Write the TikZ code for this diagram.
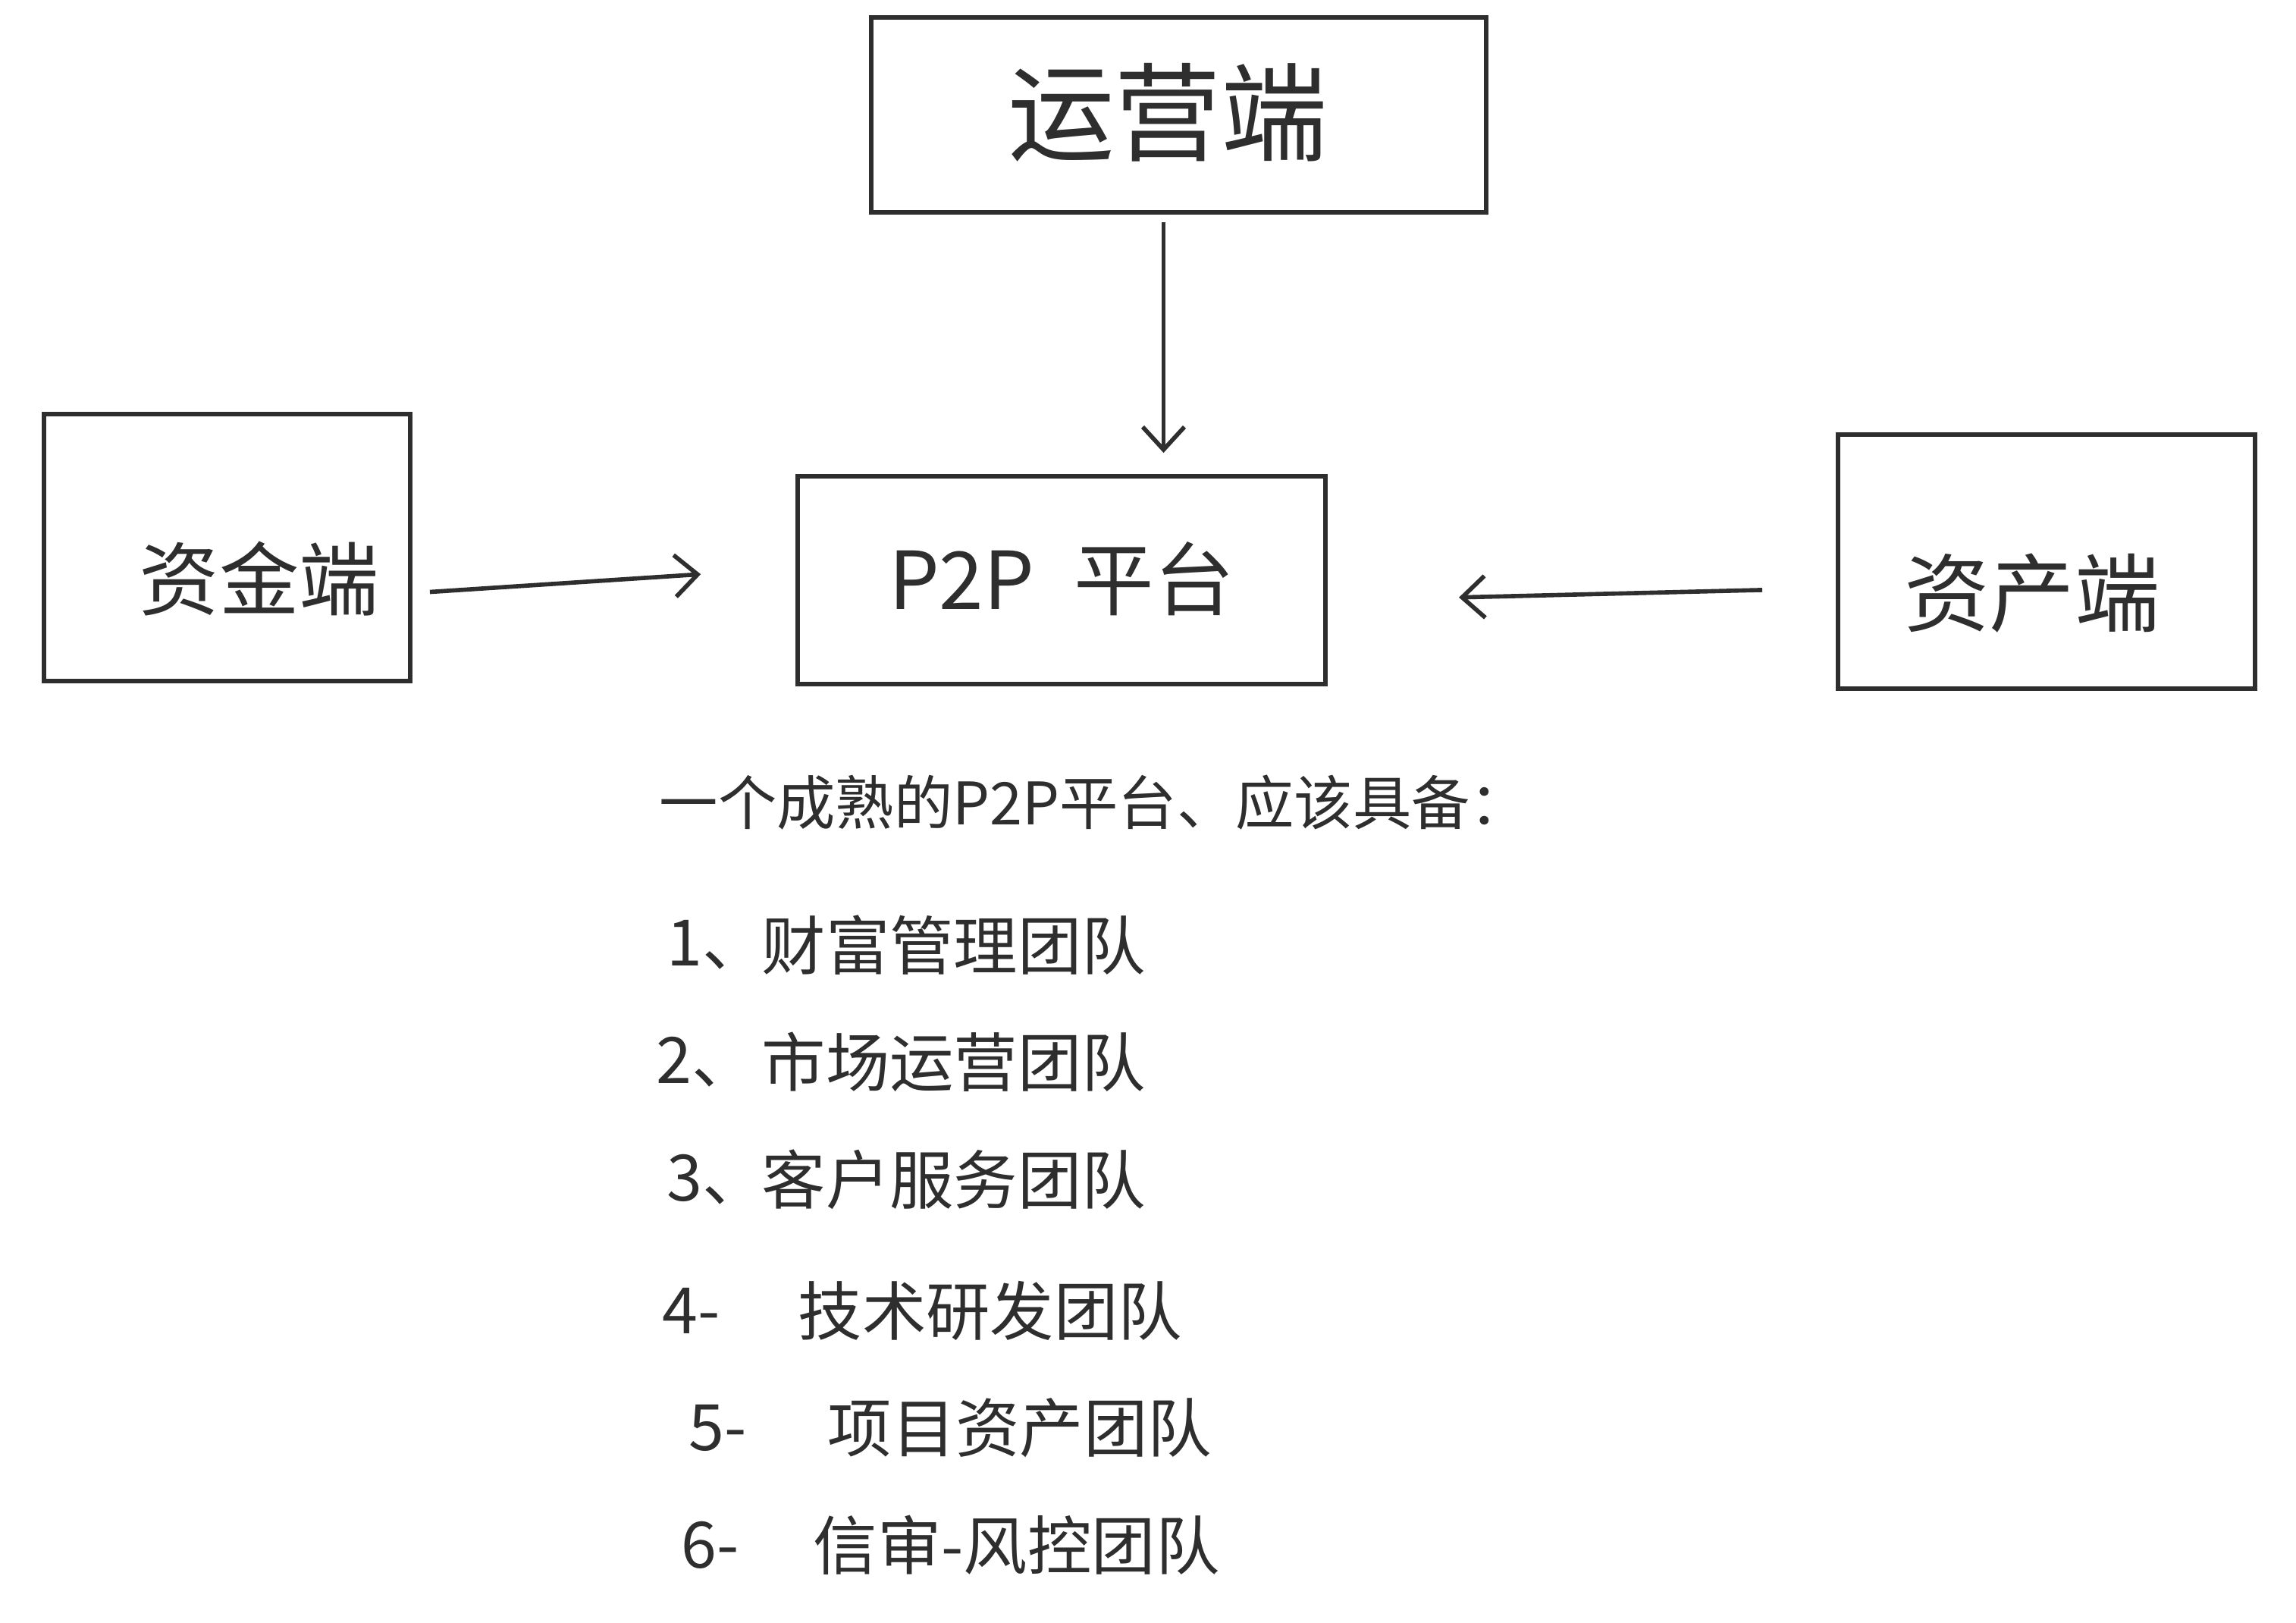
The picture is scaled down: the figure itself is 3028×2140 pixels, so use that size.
\documentclass[tikz,border=0pt]{standalone}
\usepackage{fontspec}
\setmainfont{Noto Sans CJK SC}
\usetikzlibrary{arrows.meta}
\definecolor{ink}{HTML}{2E2E2E}
\begin{document}
\begin{tikzpicture}[x=0.01cm,y=-0.01cm,
  box/.style={draw=ink, line width=1.6pt, inner sep=0pt},
  lbl/.style={text=ink, inner sep=0pt},
  arr/.style={draw=ink, line width=1.6pt, -{Straight Barb[length=0.3cm,width=0.55cm,line width=1.6pt]}},
  item/.style={text=ink, inner sep=0pt, anchor=west, font=\fontsize{24pt}{28pt}\selectfont}]
\fill[white] (0,0) rectangle (3028,2140);
\useasboundingbox (0,0) rectangle (3028,2140);
% boxes
\node[box, minimum width=8.11cm, minimum height=2.57cm] (top) at (1554.5,151.5) {};
\node[box, minimum width=4.83cm, minimum height=3.52cm] (left) at (299.5,722) {};
\node[box, minimum width=6.96cm, minimum height=2.74cm] (center) at (1400,765) {};
\node[box, minimum width=5.50cm, minimum height=3.35cm] (right) at (2699,740.5) {};
% labels
\node[lbl, font=\fontsize{40pt}{44pt}\selectfont] (topl) at (1540,148) {运营端};
\node[lbl, font=\fontsize{30pt}{34pt}\selectfont] (leftl) at (342,763) {资金端};
\node[lbl, font=\fontsize{30pt}{34pt}\selectfont] (centerl) at (1400,763) {P2P\hspace{0.5em}平台};
\node[lbl, font=\fontsize{32pt}{36pt}\selectfont] (rightl) at (2680,782) {资产端};
% arrows
\draw[arr, shorten <=0.1cm, shorten >=0.28cm] ([xshift=-0.2cm]top.south) -- ([xshift=-0.2cm]top.south |- center.north);
\draw[arr, shorten <=0.23cm, shorten >=1.25cm] ([yshift=-0.6cm]left.east) -- ([yshift=0.16cm]center.west);
\draw[arr, shorten <=0.97cm, shorten >=1.73cm] ([yshift=-0.35cm]right.west) -- ([yshift=-0.27cm]center.east);
% text
\node[item, font=\fontsize{22pt}{26pt}\selectfont] (head) at (869,1058) {一个成熟的P2P平台、应该具备：};
\node[item] (n1) at (879,1246) {1、};
\node[item] (t1) at (1004,1246) {财富管理团队};
\node[item] (n2) at (865,1400) {2、};
\node[item] (t2) at (1004,1400) {市场运营团队};
\node[item] (n3) at (879,1555) {3、};
\node[item] (t3) at (1004,1555) {客户服务团队};
\node[item] (n4) at (873,1728) {4-};
\node[item] (t4) at (1052,1728) {技术研发团队};
\node[item] (n5) at (908,1883) {5-};
\node[item] (t5) at (1091,1883) {项目资产团队};
\node[item] (n6) at (898,2037) {6-};
\node[item] (t6) at (1072,2037) {信审-风控团队};
\end{tikzpicture}
\end{document}
